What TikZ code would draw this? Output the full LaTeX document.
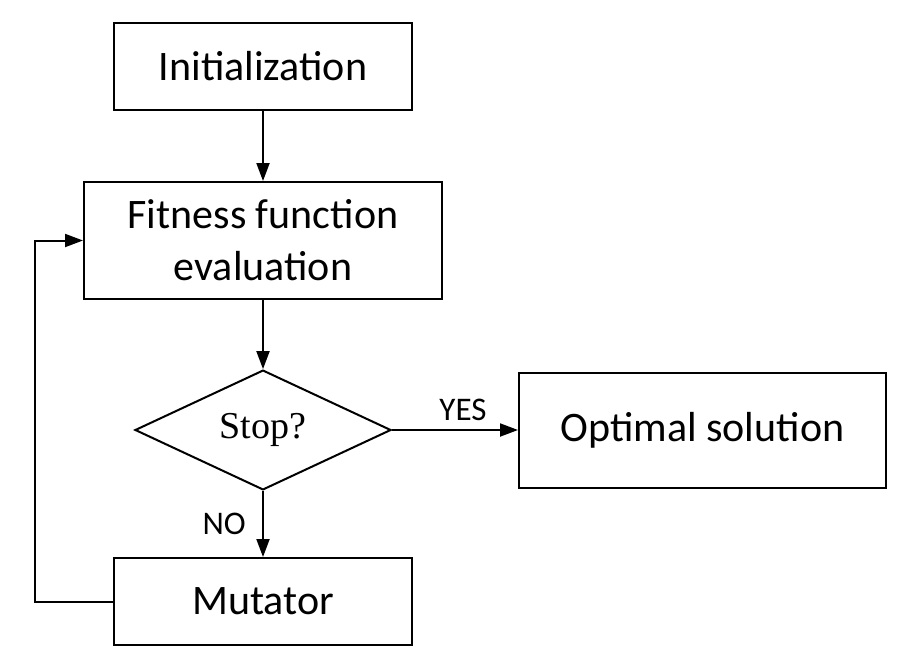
\documentclass[tikz,border=0pt]{standalone}
\usepackage{fontspec}
\setmainfont{Carlito}
\newfontfamily\stopfont{Liberation Serif}
\usetikzlibrary{shapes.geometric,arrows.meta}
\begin{document}
\begin{tikzpicture}[x=1pt,y=-1pt,line width=2pt,
        box/.style={draw,rectangle,inner sep=0pt,align=center,
            font=\fontsize{42}{52}\selectfont},
        flow/.style={-{Triangle[length=18pt,width=13pt]}}]
        \useasboundingbox (0,0) rectangle (900,661);
        \node[box,minimum width=298pt,minimum height=87pt] (init) at (263,66.5) {Initialization};
        \node[box,minimum width=358pt,minimum height=117pt] (fit) at (263,240.5) {Fitness function\\evaluation};
        \node[draw,diamond,inner sep=0pt,minimum width=256pt,minimum height=114pt,
            font=\stopfont\fontsize{38}{44}\selectfont] (stop) at (263,430) {Stop?};
        \node[box,minimum width=367pt,minimum height=115pt] (opt) at (702.5,430) {Optimal solution};
        \node[box,minimum width=298pt,minimum height=87pt] (mut) at (263,601.5) {Mutator};
        \coordinate (back) at (35,601.5);
        \draw[flow] (init) -- (fit);
        \draw[flow] (fit) -- (stop);
        \draw[flow] (stop) -- node[above,font=\fontsize{33}{40}\selectfont,xshift=8pt,yshift=5pt] {YES} (opt);
        \draw[flow] (stop) -- node[left,font=\fontsize{33}{40}\selectfont,xshift=-13pt] {NO} (mut);
        \draw[flow] (mut.west) -- (back) |- (fit.west);
    \end{tikzpicture}
\end{document}
